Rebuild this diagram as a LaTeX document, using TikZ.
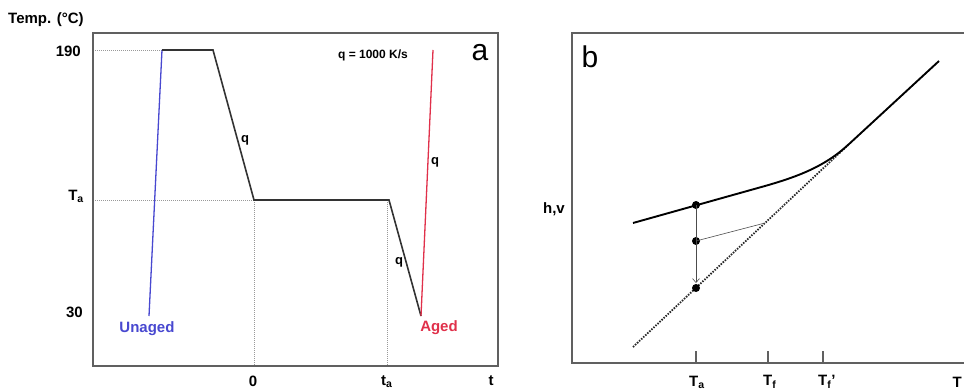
\documentclass[tikz,border=0pt]{standalone}
\usepackage{fontspec}
\setmainfont{Liberation Sans}
\usetikzlibrary{arrows.meta}
\definecolor{ublue}{HTML}{4848D0}
\definecolor{ared}{HTML}{E0304A}
\definecolor{framec}{HTML}{606060}
\begin{document}
\begin{tikzpicture}[x=1pt,y=-1pt,
  lbl/.style={font=\bfseries\fontsize{15}{17}\selectfont, inner sep=0pt},
  small/.style={font=\bfseries\fontsize{13}{15}\selectfont, inner sep=0pt},
  rate/.style={font=\bfseries\fontsize{12}{14}\selectfont, inner sep=0pt},
  big/.style={font=\fontsize{30}{34}\selectfont, inner sep=0pt},
  framel/.style={draw=framec, line width=1.5pt},
  guide/.style={draw=gray!80, line width=0.9pt, dash pattern=on 1pt off 1pt},
  path/.style={draw=black!80, line width=1.6pt},
  thickc/.style={draw=black, line width=1.9pt},
  eqline/.style={draw=black!85, line width=1.8pt, dash pattern=on 1.5pt off 1.3pt},
  thin/.style={draw=black!70, line width=0.6pt},
  dot/.style={circle, fill=black, inner sep=0pt, minimum size=8pt}]
\useasboundingbox (0,0) rectangle (964,390);

% ---------------- panel a ----------------
\coordinate (A0) at (149,316);
\coordinate (A1) at (162,50);
\coordinate (A2) at (213,50);
\coordinate (A3) at (254,200);
\coordinate (A4) at (389,200);
\coordinate (A5) at (421,316);
\coordinate (A6) at (433,50);
\coordinate (Y190) at (93,50);
\coordinate (YTa) at (93,200);
\coordinate (X0) at (254,366);
\coordinate (Xta) at (387,366);

\path[guide] (Y190) -- (A1);
\path[guide] (YTa) -- (A3);
\path[guide] (A3) -- (X0);
\path[guide] (387,200) -- (Xta);

\draw[framel] (93,33) rectangle (498,366);

\draw[ublue, line width=1.3pt] (A0) -- (A1);
\path[path] (A1) -- (A2) -- (A3) -- (A4) -- (A5);
\draw[ared, line width=1.3pt] (A5) -- (A6);

\node[lbl, anchor=west] (temp) at (8,20) {Temp. (°C)};
\node[lbl, anchor=east] (l190) at (81,51) {190};
\node[lbl, anchor=east] (lTa) at (84,196) {T\textsubscript{a}};
\node[lbl, anchor=east] (l30) at (83,312) {30};
\node[lbl] (x0) at (253,381) {0};
\node[lbl, anchor=west] (xta) at (381,382) {t\textsubscript{a}};
\node[lbl] (xt) at (491,381) {t};

\node[small] (q1) at (245,140) {q};
\node[small] (q2) at (435,162) {q};
\node[small] (q3) at (399,262) {q};
\node[rate] (qrate) at (373,55) {q = 1000 K/s};
\node[big] (la) at (480,53) {a};

\node[lbl, text=ublue] (unaged) at (147,329) {Unaged};
\node[lbl, text=ared] (aged) at (439,328) {Aged};

% ---------------- panel b ----------------
\draw[framel] (964,33) -- (572,33) -- (572,363) -- (964,363);

\coordinate (B0) at (633,223);
\coordinate (B2) at (765,186);
\coordinate (B3) at (848,145);
\coordinate (B4) at (939,61);
\coordinate (E0) at (633,347);
\coordinate (Ef) at (765,223);

\path[eqline] (E0) -- (B3);
\path[thickc] (B0) -- (B2) .. controls (800,176) and (825,166) .. (B3) -- (B4);

\node[dot] (p1) at (696,205) {};
\node[dot] (p2) at (696,241) {};
\node[dot] (p3) at (696,288) {};

\draw[thin] (p2.center) -- (Ef);
\draw[thin, -{Straight Barb[length=4pt,width=7pt]}] (p1.center) -- (696,283);

\foreach \x/\n in {696/ta,768/tf,823/tfp}{
  \coordinate (tk\n) at (\x,363);
  \draw[framel, line width=1.2pt] (tk\n) -- (\x,351);
}

\node[lbl, anchor=west] (bTa) at (689,382) {T\textsubscript{a}};
\node[lbl, anchor=west] (bTf) at (763,382) {T\textsubscript{f}};
\node[lbl, anchor=west] (bTfp) at (818,382) {T\textsubscript{f}'};
\node[lbl, anchor=east] (bT) at (962,382) {T};
\node[lbl, anchor=east] (hv) at (565,209) {h,v};
\node[big] (lb) at (590,57) {b};
\end{tikzpicture}
\end{document}
